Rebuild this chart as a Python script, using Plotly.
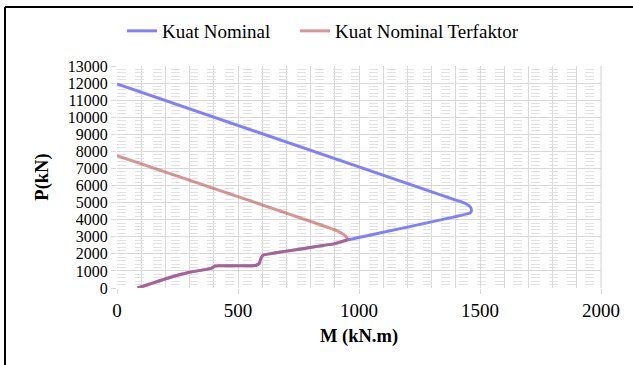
import plotly.graph_objects as go

# Kuat Nominal (nominal interaction curve)
m_nominal = [0, 1400, 1440, 1460, 1465, 1460, 950, 900, 605, 595, 588, 575, 555, 420, 405, 390, 300, 205, 85]
p_nominal = [11950, 5150, 4950, 4750, 4550, 4400, 2810, 2600, 1930, 1750, 1450, 1330, 1300, 1310, 1290, 1150, 920, 560, 0]

# Kuat Nominal Terfaktor (factored interaction curve)
m_factored = [0, 910, 935, 948, 952, 950, 900, 605, 595, 588, 575, 555, 420, 405, 390, 300, 205, 85]
p_factored = [7750, 3350, 3150, 2980, 2880, 2810, 2600, 1930, 1750, 1450, 1330, 1300, 1310, 1290, 1150, 920, 560, 0]

x_ticks = [0, 500, 1000, 1500, 2000]
y_ticks = list(range(0, 13001, 1000))

FONT = "Liberation Serif, Times New Roman, serif"

fig = go.Figure()
fig.add_trace(go.Scatter(x=m_nominal, y=p_nominal, mode="lines", name="Kuat Nominal",
                         line=dict(color="rgb(128,128,255)", width=3, shape="spline", smoothing=0.3),
                         legend="legend"))
fig.add_trace(go.Scatter(x=m_factored, y=p_factored, mode="lines", name="Kuat Nominal Terfaktor",
                         line=dict(color="rgba(192,80,77,0.6)", width=3, shape="spline", smoothing=0.3),
                         legend="legend2"))

L, R, T, B = 117, 32, 66, 77
W, H = 633, 365
pw, ph = W - L - R, H - T - B

def px(xp):
    return (xp - L) / pw

def py(yp):
    return (H - B - yp) / ph

leg_common = dict(orientation="h", xref="paper", yref="paper", xanchor="left",
                  y=py(31), yanchor="middle", font=dict(size=19), bgcolor="rgba(0,0,0,0)",
                  itemwidth=30, tracegroupgap=0)

fig.update_layout(
    width=W, height=H,
    margin=dict(l=L, r=R, t=T, b=B, autoexpand=False),
    paper_bgcolor="white", plot_bgcolor="white",
    font=dict(family=FONT, size=16, color="black"),
    showlegend=True,
    legend=dict(x=px(122), **leg_common),
    legend2=dict(x=px(295), **leg_common),
    xaxis=dict(range=[0, 2000], tickvals=x_ticks, ticktext=[str(v) for v in x_ticks],
               automargin=False,
               showgrid=True, gridcolor="#D9D9D9", gridwidth=1,
               minor=dict(dtick=100, showgrid=True, gridcolor="#D9D9D9", gridwidth=1),
               ticks="outside", ticklen=5, tickcolor="#D9D9D9", zeroline=False, showline=False,
               title=dict(text="<b>M (kN.m)</b>", font=dict(size=18.5), standoff=9),
               tickfont=dict(size=19)),
    yaxis=dict(range=[0, 13000], tickvals=y_ticks, ticktext=[str(v) for v in y_ticks],
               automargin=False,
               showgrid=True, gridcolor="#D9D9D9", gridwidth=1,
               minor=dict(dtick=200, showgrid=True, gridcolor="#E2E2E2", gridwidth=1, griddash="dash"),
               ticks="outside", ticklen=5, tickcolor="#D9D9D9", zeroline=False, showline=False,
               title=dict(text="<b>P(kN)</b>", font=dict(size=18.5), standoff=14),
               tickfont=dict(size=16)),
    shapes=[
        dict(type="line", xref="paper", yref="paper", x0=px(5), x1=px(640), y0=py(7), y1=py(7),
             line=dict(color="black", width=2)),
        dict(type="line", xref="paper", yref="paper", x0=px(5), x1=px(5), y0=py(7), y1=py(370),
             line=dict(color="black", width=2)),
        dict(type="line", xref="paper", yref="paper", x0=1, x1=1, y0=0, y1=1,
             line=dict(color="#D0D0D0", width=1)),
    ],
)

fig.write_html("out.html", config={"displayModeBar": False},
               post_script="document.body.style.margin='0px';document.body.style.overflow='hidden';")
